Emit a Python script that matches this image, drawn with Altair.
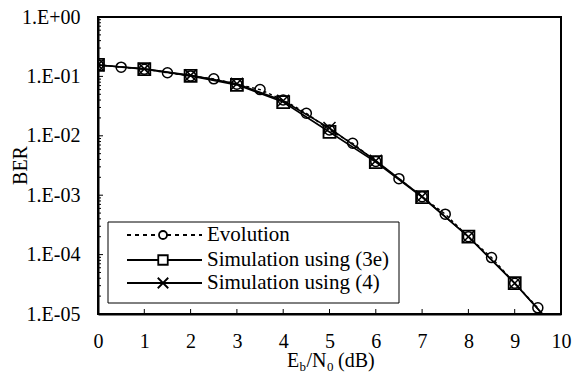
import altair as alt
import pandas as pd

# ---------------- data ----------------
evo_x = [0, 0.5, 1, 1.5, 2, 2.5, 3, 3.5, 4, 4.5, 5, 5.5, 6, 6.5, 7, 7.5, 8, 8.5, 9, 9.5]
evo_y = [0.156, 0.143, 0.132, 0.115, 0.102, 0.091, 0.074, 0.060, 0.040, 0.024,
         0.0125, 0.0075, 0.0037, 0.0019, 0.00094, 0.00048, 0.00020, 8.9e-5, 3.3e-5, 1.27e-5]

sim_x = [0, 1, 2, 3, 4, 5, 6, 7, 8, 9, 10]
sim3e_y = [0.156, 0.133, 0.102, 0.072, 0.037, 0.0116, 0.0036, 0.00093, 0.00020, 3.3e-5, 4.5e-6]
sim4_y = [0.156, 0.134, 0.104, 0.075, 0.039, 0.0135, 0.0038, 0.00095, 0.00020, 3.3e-5, 4.5e-6]

legend_labels = ["Evolution", "Simulation using (3e)", "Simulation using (4)"]

x_ticks = [0, 1, 2, 3, 4, 5, 6, 7, 8, 9, 10]
x_inner_ticks = [1, 2, 3, 4, 5, 6, 7, 8, 9]
y_major = [1, 0.1, 0.01, 0.001, 0.0001, 0.00001]
y_labels = ["1.E+00", "1.E-01", "1.E-02", "1.E-03", "1.E-04", "1.E-05"]
y_minor = [m * 10.0 ** (-k) for k in range(1, 6) for m in range(2, 10)]

x_title_parts = ["E", "b", "/N", "0", "(dB)"]
y_title = "BER"

# ---------------- styling ----------------
FONT = "Liberation Serif"
W, H = 463, 297
xscale = alt.Scale(domain=[0, 10], nice=False, zero=False)
yscale = alt.Scale(type="log", domain=[1e-5, 1], nice=False)

label_expr = "[" + ",".join("'%s'" % s for s in y_labels) + "][round(-log(datum.value)/LN10)]"

xaxis = alt.Axis(values=x_ticks, ticks=False, grid=False, domainColor="black", domainWidth=2,
                 labelFont=FONT, labelFontSize=20, labelColor="black", labelPadding=17,
                 title=None, labelFlush=False)
yaxis = alt.Axis(values=y_major, ticks=False, grid=False, domainColor="black", domainWidth=2,
                 labelFont=FONT, labelFontSize=20, labelColor="black", labelPadding=18,
                 labelExpr=label_expr, title=y_title, titleFont=FONT, titleFontSize=20,
                 titleFontWeight="normal", titleColor="black", titleX=-78, titleY=148,
                 titleAngle=270, titleAlign="center", titleBaseline="middle")


def X(field):
    return alt.X(field, type="quantitative", scale=xscale, axis=xaxis)


def Y(field):
    return alt.Y(field, type="quantitative", scale=yscale, axis=yaxis)


evo_df = pd.DataFrame({"x": evo_x, "y": evo_y})
s3_df = pd.DataFrame({"x": sim_x, "y": sim3e_y})
s4_df = pd.DataFrame({"x": sim_x, "y": sim4_y})

XPATH = "M-1,-1L1,1M-1,1L1,-1"

layers = []
# data lines and markers
layers.append(alt.Chart(s3_df).mark_line(color="black", strokeWidth=1.6, clip=True).encode(x=X("x"), y=Y("y")))
layers.append(alt.Chart(s4_df).mark_line(color="black", strokeWidth=1.6, clip=True).encode(x=X("x"), y=Y("y")))
layers.append(alt.Chart(evo_df).mark_line(color="black", strokeWidth=1.4, strokeDash=[3, 3], clip=True).encode(x=X("x"), y=Y("y")))
layers.append(alt.Chart(evo_df).mark_point(shape="circle", size=100, filled=False, stroke="black",
                                           strokeWidth=1.5, opacity=1, clip=True).encode(x=X("x"), y=Y("y")))
layers.append(alt.Chart(s3_df).mark_point(shape="square", size=144, filled=False, stroke="black",
                                          strokeWidth=1.8, opacity=1, clip=True).encode(x=X("x"), y=Y("y")))
layers.append(alt.Chart(s4_df).mark_point(shape=XPATH, size=144, filled=False, stroke="black",
                                          strokeWidth=1.5, opacity=1, clip=True).encode(x=X("x"), y=Y("y")))

# inward ticks
xt_df = pd.DataFrame({"v": x_inner_ticks})
layers.append(alt.Chart(xt_df).mark_rule(color="black", strokeWidth=1).encode(
    x=X("v"), y=alt.value(H), y2=alt.value(H - 5)))
ymaj_df = pd.DataFrame({"v": y_major})
layers.append(alt.Chart(ymaj_df).mark_rule(color="black", strokeWidth=1).encode(
    y=Y("v"), x=alt.value(0), x2=alt.value(5)))
ymin_df = pd.DataFrame({"v": y_minor})
layers.append(alt.Chart(ymin_df).mark_rule(color="black", strokeWidth=1).encode(
    y=Y("v"), x=alt.value(0), x2=alt.value(3)))

# legend
layers.append(alt.Chart(pd.DataFrame({"a": [0]})).mark_rect(fill="white", stroke="black", strokeWidth=1).encode(
    x=alt.value(10), x2=alt.value(301), y=alt.value(205), y2=alt.value(286)))
row_y = [218, 243, 266]
shapes = ["circle", "square", XPATH]
sizes = [64, 90, 110]
dashes = [[4, 4], None, None]
for i, lab in enumerate(legend_labels):
    rule_kw = dict(color="black", strokeWidth=1.8)
    if dashes[i]:
        rule_kw["strokeDash"] = dashes[i]
    ldf = pd.DataFrame({"label": [lab]})
    layers.append(alt.Chart(ldf).mark_rule(**rule_kw).encode(
        x=alt.value(29), x2=alt.value(104), y=alt.value(row_y[i])))
    layers.append(alt.Chart(ldf).mark_point(shape=shapes[i], size=sizes[i], filled=True, fill="white",
                                            stroke="black", strokeWidth=1.8, opacity=1).encode(
        x=alt.value(65), y=alt.value(row_y[i])))
    layers.append(alt.Chart(ldf).mark_text(align="left", baseline="middle", font=FONT, fontSize=21,
                                           color="black").encode(
        x=alt.value(109), y=alt.value(row_y[i]), text="label:N"))

# x title with subscripts
part_x = [189, 201.5, 208.5, 229, 240]
part_y = [350, 354, 350, 354, 350]
part_size = [20, 13, 20, 13, 20]
for t, px, py, ps in zip(x_title_parts, part_x, part_y, part_size):
    tdf = pd.DataFrame({"t": [t]})
    layers.append(alt.Chart(tdf).mark_text(align="left", baseline="alphabetic", font=FONT, fontSize=ps,
                                           color="black").encode(
        x=alt.value(px), y=alt.value(py), text="t:N"))

chart = alt.layer(*layers).properties(
    width=W, height=H,
    autosize=alt.AutoSizeParams(type="none"),
    padding={"left": 98, "top": 17, "right": 20, "bottom": 60},
    background="white",
).configure_view(stroke="black", strokeWidth=2)

chart.save("out.html", embed_options={"renderer": "svg", "actions": False})
